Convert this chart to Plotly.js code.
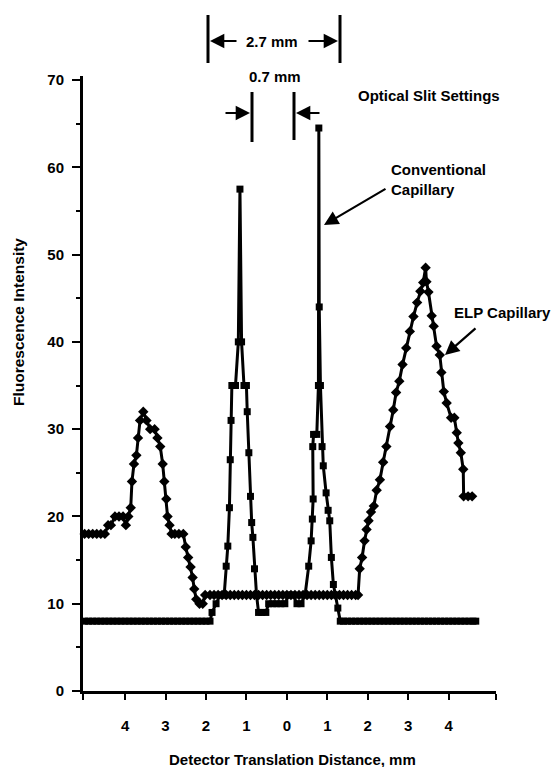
<!DOCTYPE html>
<html>
<head>
<meta charset="utf-8">
<script src="https://cdn.plot.ly/plotly-3.0.1.min.js"></script>
<style>html,body{margin:0;padding:0;background:#fff;}#chart{width:552px;height:767px;}</style>
</head>
<body>
<div id="chart"></div>
<script>
// ---------- DATA ----------
const xTickVals = [-5.04, -4, -3, -2, -1, 0, 1, 2, 3, 4, 5.17];
const xTickText = ["", "4", "3", "2", "1", "0", "1", "2", "3", "4", ""];

// ELP capillary (diamonds)
const elpX = [-5.0,-4.9,-4.8,-4.7,-4.6,-4.5,-4.42,-4.35,-4.25,-4.15,-4.05,-3.98,-3.92,-3.86,-3.83,-3.78,-3.72,-3.68,-3.63,-3.55,-3.47,-3.38,-3.27,-3.2,-3.13,-3.07,-3.03,-2.98,-2.95,-2.9,-2.85,-2.77,-2.67,-2.56,-2.5,-2.44,-2.38,-2.33,-2.29,-2.24,-2.16,-2.08,-2.02,
  -1.9,-1.8,-1.7,-1.6,-1.5,-1.4,-1.3,-1.2,-1.1,-1.0,-0.9,-0.8,-0.7,-0.6,-0.5,-0.4,-0.3,-0.2,-0.1,0.0,0.1,0.2,0.3,0.4,0.5,0.6,0.7,0.8,0.9,1.0,1.1,1.2,1.3,1.4,1.5,1.6,1.7,
  1.76,1.8,1.86,1.92,1.97,2.02,2.08,2.15,2.22,2.3,2.38,2.46,2.55,2.63,2.7,2.78,2.86,2.95,3.04,3.13,3.22,3.3,3.37,3.43,3.45,3.5,3.58,3.63,3.7,3.78,3.82,3.88,3.95,4.06,4.14,4.2,4.24,4.3,4.36,4.37,4.48,4.58];
const elpY = [18,18,18,18,18,18,19,19,20,20,20,19,20,21,24,26,27,29,31,32,31,30,30,29,28,26,24,22,20,19,18,18,18,18,16.5,15.3,14.2,13,11.7,10.5,10,10,11,
  11,11,11,11,11,11,11,11,11,11,11,11,11,11,11,11,11,11,11,11,11,11,11,11,11,11,11,11,11,11,11,11,11,11,11,11,11,
  11,14,15.3,17.2,18.5,19.5,20.5,21.2,23,24.2,26.2,28,30.3,32.2,34.2,35.5,37.4,39.3,41.2,42.9,44.5,45.8,46.8,48.5,46.9,45.7,43,41.8,39.5,38.5,36.5,34.3,33,31.3,31.3,29.6,28.4,27.3,25.4,22.3,22.3,22.3];

// Conventional capillary (squares)
const convX = [-5.0,-4.9,-4.8,-4.7,-4.6,-4.5,-4.4,-4.3,-4.2,-4.1,-4.0,-3.9,-3.8,-3.7,-3.6,-3.5,-3.4,-3.3,-3.2,-3.1,-3.0,-2.9,-2.8,-2.7,-2.6,-2.5,-2.4,-2.3,-2.2,-2.1,-2.0,-1.9,
  -1.85,-1.75,-1.65,-1.55,-1.5,-1.46,-1.42,-1.4,-1.38,-1.36,-1.27,-1.2,-1.16,-1.12,-1.06,-1.0,-0.98,-0.94,-0.9,-0.87,-0.84,-0.8,-0.75,
  -0.7,-0.62,-0.52,-0.45,-0.35,-0.25,-0.15,-0.05,0.05,0.15,0.25,0.35,0.45,
  0.54,0.6,0.63,0.65,0.64,0.66,0.74,0.78,0.79,0.8,0.83,0.87,0.9,0.97,1.02,1.06,1.1,1.15,1.2,1.26,1.32,
  1.4,1.5,1.6,1.7,1.8,1.9,2.0,2.1,2.2,2.3,2.4,2.5,2.6,2.7,2.8,2.9,3.0,3.1,3.2,3.3,3.4,3.5,3.6,3.7,3.8,3.9,4.0,4.1,4.2,4.3,4.4,4.5,4.6,4.67];
const convY = [8,8,8,8,8,8,8,8,8,8,8,8,8,8,8,8,8,8,8,8,8,8,8,8,8,8,8,8,8,8,8,8,
  9,10,11,11,14.3,16.6,21,26.5,31,35,35,40,57.5,40,35,35,32,27.3,22.3,19.3,17.6,14,11,
  9,9,9,10,10,10,10,10,11,11,10,10,11,
  14.3,17.2,19.7,22,28,29.4,29.4,35,64.5,44,35,28,25.8,22.7,20.7,19.5,15.3,12.2,11,9.5,8,
  8,8,8,8,8,8,8,8,8,8,8,8,8,8,8,8,8,8,8,8,8,8,8,8,8,8,8,8,8,8,8,8,8,8];

// ---------- LAYOUT HELPERS (pixel geometry) ----------
const L = 83, R = 496, T = 76, B = 691;
const W = R - L, H = B - T;
const px = v => (v - L) / W;
const py = v => (B - v) / H;
const FONT = "Liberation Sans, Arial, Helvetica, sans-serif";
const BOLD = {family: FONT, size: 15, color: "#000", weight: "bold"};

const traces = [
  {x: elpX, y: elpY, mode: "lines+markers", type: "scatter", cliponaxis: false,
   line: {color: "#000", width: 3}, marker: {symbol: "diamond", size: 8, color: "#000"}, name: "ELP Capillary"},
  {x: convX, y: convY, mode: "lines+markers", type: "scatter", cliponaxis: false,
   line: {color: "#000", width: 3}, marker: {symbol: "square", size: 7, color: "#000"}, name: "Conventional Capillary"}
];

function bar(x, y0, y1) {
  return {type: "line", xref: "paper", yref: "paper", x0: px(x), x1: px(x), y0: py(y0), y1: py(y1),
          line: {color: "#000", width: 3}};
}
function arrow(hx, hy, tx, ty) {
  return {xref: "paper", yref: "paper", x: px(hx), y: py(hy), ax: tx - hx, ay: ty - hy, text: "",
          showarrow: true, arrowhead: 2, arrowsize: 1.3, arrowwidth: 2.2, arrowcolor: "#000"};
}
function label(text, x, y, xanchor) {
  return {xref: "paper", yref: "paper", x: px(x), y: py(y), text: text, showarrow: false,
          xanchor: xanchor, yanchor: "middle", align: "left", font: BOLD};
}

const layout = {
  width: 552, height: 767,
  margin: {l: L, r: 552 - R, t: T, b: 767 - B},
  paper_bgcolor: "#fff", plot_bgcolor: "#fff",
  showlegend: false,
  font: BOLD,
  xaxis: {range: [-5.04, 5.17], showgrid: false, zeroline: false, showline: true, linewidth: 3, linecolor: "#000",
          ticks: "outside", ticklen: 6, tickwidth: 2, tickcolor: "#000",
          tickvals: xTickVals, ticktext: xTickText, ticklabelstandoff: 13,
          tickfont: BOLD},
  yaxis: {range: [0, 70.46], showgrid: false, zeroline: false, showline: true, linewidth: 3, linecolor: "#000",
          ticks: "outside", ticklen: 8, tickwidth: 2, tickcolor: "#000", dtick: 10, tick0: 0,
          ticklabelstandoff: 5,
          minor: {dtick: 5, ticks: "outside", ticklen: 4, tickwidth: 2, tickcolor: "#000"},
          tickfont: BOLD},
  shapes: [
    bar(208, 15, 63), bar(340, 15, 63),
    bar(252, 92, 142), bar(294, 92, 140)
  ],
  annotations: [
    label("2.7 mm", 272, 41, "center"),
    arrow(210, 41, 238, 41), arrow(338, 41, 307, 41),
    label("0.7 mm", 275, 77, "center"),
    arrow(250, 113, 224, 113), arrow(296, 113, 321, 113),
    label("Optical Slit Settings", 429, 95, "center"),
    label("Conventional<br>Capillary", 389, 179, "left"),
    arrow(324, 225, 387, 188),
    label("ELP Capillary", 452, 312, "left"),
    arrow(445, 355, 477, 327),
    {xref: "paper", yref: "paper", x: px(18), y: py(322), text: "Fluorescence Intensity", showarrow: false,
     textangle: -90, xanchor: "center", yanchor: "middle", font: {family: FONT, size: 15.5, color: "#000", weight: "bold"}},
    {xref: "paper", yref: "paper", x: px(292), y: py(759), text: "Detector Translation Distance, mm", showarrow: false,
     xanchor: "center", yanchor: "middle", font: BOLD}
  ]
};

Plotly.newPlot("chart", traces, layout, {staticPlot: true, displayModeBar: false});
</script>
</body>
</html>
